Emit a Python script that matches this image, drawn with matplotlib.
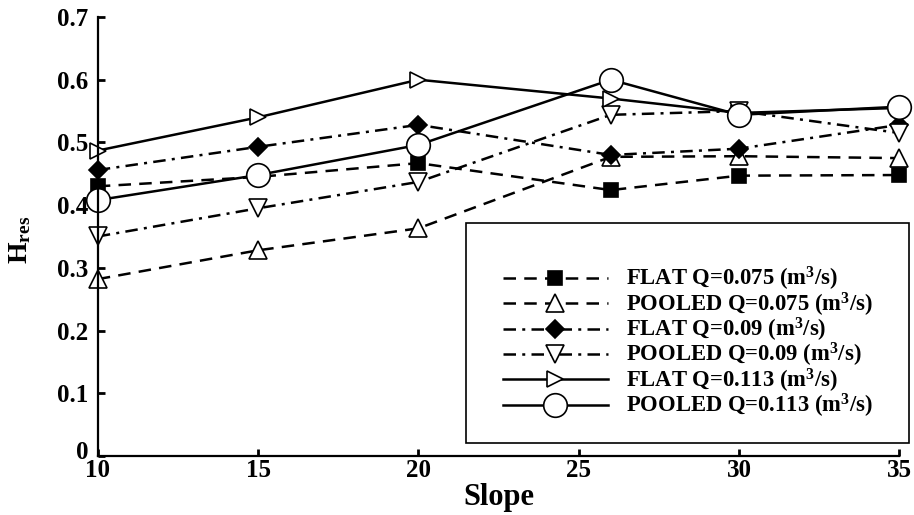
import matplotlib
matplotlib.use('Agg')
import matplotlib.pyplot as plt
from matplotlib.patches import Rectangle
from matplotlib.transforms import ScaledTranslation

plt.rcParams['font.family'] = ['Liberation Serif', 'DejaVu Serif']
plt.rcParams['font.weight'] = 'bold'
plt.rcParams['mathtext.fontset'] = 'custom'
plt.rcParams['mathtext.rm'] = 'Liberation Serif:bold'
plt.rcParams['mathtext.bf'] = 'Liberation Serif:bold'
plt.rcParams['mathtext.it'] = 'Liberation Serif:bold'

# slope values and H_res readings
slope = [10, 15, 20, 26, 30, 35]
flat_075 = [0.43, 0.445, 0.467, 0.424, 0.447, 0.448]
pooled_075 = [0.282, 0.328, 0.363, 0.477, 0.478, 0.475]
flat_09 = [0.456, 0.493, 0.528, 0.48, 0.49, 0.528]
pooled_09 = [0.35, 0.395, 0.437, 0.544, 0.55, 0.515]
flat_113 = [0.487, 0.54, 0.6, 0.57, 0.547, 0.555]
pooled_113 = [0.408, 0.448, 0.496, 0.6, 0.544, 0.557]

labels = ['FLAT Q=0.075 (m$^3$/s)', 'POOLED Q=0.075 (m$^3$/s)',
          'FLAT Q=0.09 (m$^3$/s)', 'POOLED Q=0.09 (m$^3$/s)',
          'FLAT Q=0.113 (m$^3$/s)', 'POOLED Q=0.113 (m$^3$/s)']
x_ticks = [10, 15, 20, 25, 30, 35]
y_ticks = [0, 0.1, 0.2, 0.3, 0.4, 0.5, 0.6, 0.7]
y_ticklabels = ['0', '0.1', '0.2', '0.3', '0.4', '0.5', '0.6', '0.7']

dash = (5, 3.3)
dashdot = (5, 2.5, 1.2, 2.5)

fig = plt.figure(figsize=(9.14, 5.15), dpi=100)
ax = fig.add_axes([0.107, 0.1146, 0.877, 0.8524])

series = [
    (flat_075, 's', 'k', dash, 10.5),
    (pooled_075, '^', 'w', dash, 12.5),
    (flat_09, 'D', 'k', dashdot, 9.5),
    (pooled_09, 'v', 'w', dashdot, 12.5),
    (flat_113, '>', 'w', None, 12),
    (pooled_113, 'o', 'w', None, 17),
]

handles = []
for (vals, mk, fc, ds, ms), lab in zip(series, labels):
    ln, = ax.plot(slope, vals, color='k', lw=1.8, marker=mk, markersize=ms,
                  markerfacecolor=fc, markeredgecolor='k', markeredgewidth=1.2,
                  label=lab, clip_on=False)
    if ds is not None:
        ln.set_dashes(ds)
    handles.append(ln)

ax.set_xlim(10, 35)
ax.set_ylim(0, 0.7)
ax.set_xticks(x_ticks)
ax.set_yticks(y_ticks)
ax.set_yticklabels(y_ticklabels)
ax.tick_params(direction='in', length=5, width=2, labelsize=18)
ax.tick_params(axis='y', pad=7)
ax.tick_params(axis='x', pad=2)
for s in ['top', 'right']:
    ax.spines[s].set_visible(False)
for s in ['left', 'bottom']:
    ax.spines[s].set_linewidth(1.6)

# nudge the "0" label up so it clears the "10"
zero_lab = ax.get_yticklabels()[0]
zero_lab.set_transform(zero_lab.get_transform()
                       + ScaledTranslation(0, 4 / 72, fig.dpi_scale_trans))

ax.set_xlabel('Slope', fontsize=22, fontweight='bold', labelpad=1)
fig.text(0.022, 0.535, r'H$_{\rm res}$', rotation=90, ha='center', va='center',
         fontsize=20, fontweight='bold')

# legend frame drawn separately
box = Rectangle((0.459, 0.03), 0.553, 0.501, transform=ax.transAxes,
                fill=True, facecolor='white', edgecolor='k', lw=1.2,
                clip_on=False, zorder=4)
ax.add_patch(box)
leg = ax.legend(handles=handles, loc='upper left', bbox_to_anchor=(0.506, 0.435),
                frameon=False, fontsize=16.3, handlelength=4.6, handletextpad=0.8,
                labelspacing=-0.12, borderaxespad=0, borderpad=0)
leg.set_zorder(5)

fig.savefig('out.png', dpi=100)
